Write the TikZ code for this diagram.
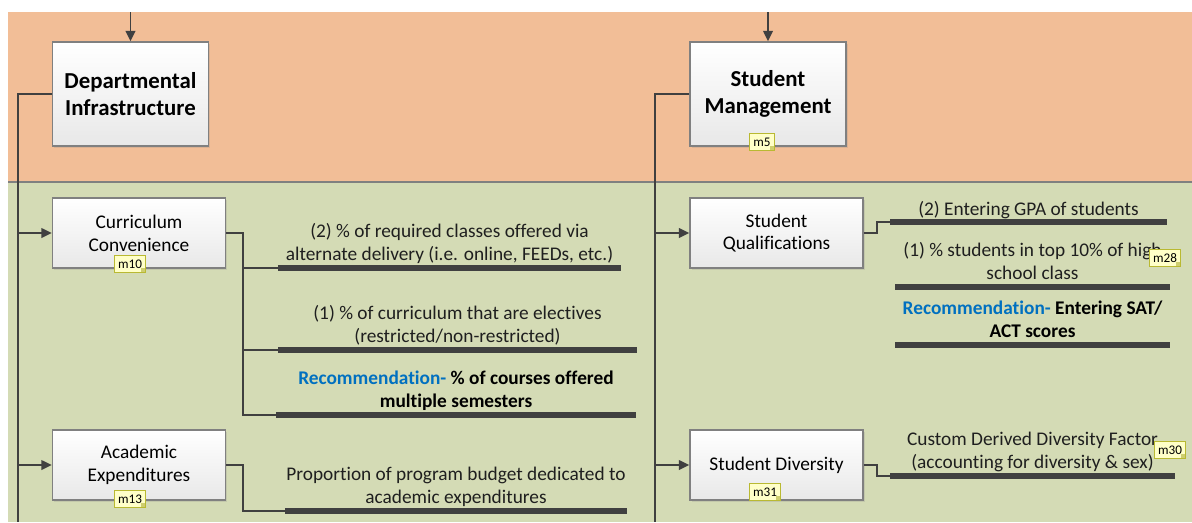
\documentclass[tikz,border=0pt]{standalone}
\usepackage{fontspec}
\setmainfont{Carlito}[Ligatures=NoCommon]
\usetikzlibrary{positioning,arrows.meta,shadows}

\definecolor{bandorange}{RGB}{242,190,151}
\definecolor{bandgreen}{RGB}{212,219,181}
\definecolor{linegray}{RGB}{64,64,64}
\definecolor{recblue}{RGB}{0,112,192}
\definecolor{tagfill}{RGB}{255,255,200}
\definecolor{tagedge}{RGB}{185,185,50}

\newcommand{\recom}{\textcolor{recblue}{Recommendation-}}

\begin{document}
\begin{tikzpicture}[
        x=0.02cm, y=-0.02cm,
        title/.style={
            rectangle,
            draw=black!50,
            line width=0.8pt,
            top color=white,
            bottom color=black!9,
            drop shadow={opacity=0.2, shadow xshift=1pt, shadow yshift=-1pt},
            minimum width=3.12cm,
            minimum height=2.08cm,
            align=center,
            font=\fontsize{13}{15.5}\selectfont\bfseries
        },
        topic/.style={
            title,
            minimum width=3.46cm,
            minimum height=1.4cm,
            font=\fontsize{11}{13}\selectfont
        },
        bar/.style={rectangle, fill=linegray, inner sep=0pt, minimum height=3.4pt},
        metric/.style={
            align=center,
            inner sep=0pt,
            text=black!88,
            font=\fontsize{11}{13}\selectfont,
            execute at end node=\strut
        },
        rec/.style={metric, text=black, font=\fontsize{11}{13}\selectfont\bfseries},
        tag/.style={
            rectangle,
            draw=tagedge,
            fill=tagfill,
            line width=0.6pt,
            inner xsep=2pt,
            inner ysep=1pt,
            minimum height=0.34cm,
            font=\fontsize{7.5}{8}\selectfont,
            path picture={\fill[tagedge!70] (path picture bounding box.south east) rectangle ++(-2.5pt,2.5pt);}
        },
        link/.style={draw=linegray, line width=1.1pt},
        arrow/.style={link, -{Triangle[length=6pt,width=5.5pt]}}
    ]

    % Bands
    \useasboundingbox (0,0) rectangle (1192,522);
    \fill[bandorange] (8,12) rectangle (1192,182);
    \fill[bandgreen] (8,182) rectangle (1192,522);
    \draw[black!50, line width=0.8pt] (8,182) -- (1192,182);

    % Nodes
    \node (di) [title] at (130.5,94) {Departmental\\Infrastructure};
    \node (sm) [title] at (768,94) {Student\\Management};

    \node (cc) [topic] at (139,233) {Curriculum\\Convenience};
    \node (ae) [topic] at (139,465) {Academic\\Expenditures};
    \node (sq) [topic] at (776.5,233) {Student\\Qualifications};
    \node (sd) [topic] at (776.5,465) {Student Diversity};

    \coordinate (ditop) at (130.5,12);
    \coordinate (smtop) at (768,12);
    \coordinate (dibot) at (18,522);
    \coordinate (smbot) at (655,522);
    \coordinate (ccfork) at (243,233);
    \coordinate (aefork) at (243,465);
    \coordinate (sqfork) at (877,233);
    \coordinate (sdfork) at (877,465);

    % Bars
    \node (mc2) [bar, minimum width=6.86cm] at (449.5,268) {};
    \node (mc1) [bar, minimum width=7.18cm] at (457.5,350) {};
    \node (mcr) [bar, minimum width=7.2cm] at (456,415) {};
    \node (ma) [bar, minimum width=6.84cm] at (456,511) {};
    \node (mq2) [bar, minimum width=5.54cm] at (1028.5,222) {};
    \node (mq1) [bar, minimum width=5.5cm] at (1032.5,287) {};
    \node (mqr) [bar, minimum width=5.5cm] at (1032.5,345) {};
    \node (md) [bar, minimum width=5.7cm] at (1032.5,476) {};

    % Metric texts
    \node (tc2) [metric, above=-1.5pt of mc2] {(2) \% of required classes offered via\\alternate delivery (i.e. online, FEEDs, etc.)};
    \node (tc1) [metric, above=-1.5pt of mc1] {(1) \% of curriculum that are electives\\(restricted/non-restricted)};
    \node (tcr) [rec, above=-1.5pt of mcr] {\recom{} \% of courses offered\\multiple semesters};
    \node (ta) [metric, above=-1.5pt of ma] {Proportion of program budget dedicated to\\academic expenditures};
    \node (tq2) [metric, above=-2.5pt of mq2] {(2) Entering GPA of students};
    \node (tq1) [metric, above=-1.5pt of mq1] {(1) \% students in top 10\% of high\\school class};
    \node (tqr) [rec, above=-1.5pt of mqr] {\recom{} Entering SAT/\\ACT scores};
    \node (td) [metric, above=-1.5pt of md] {Custom Derived Diversity Factor\\(accounting for diversity \& sex)};

    % Arrows
    \draw[arrow] (ditop) -- (di.north);
    \draw[arrow] (smtop) -- (sm.north);
    \draw[link] (di.west) -| (dibot);
    \draw[link] (sm.west) -| (smbot);
    \draw[arrow] (cc.west -| dibot) -- (cc.west);
    \draw[arrow] (ae.west -| dibot) -- (ae.west);
    \draw[arrow] (sq.west -| smbot) -- (sq.west);
    \draw[arrow] (sd.west -| smbot) -- (sd.west);

    \draw[link] (cc.east) -- (ccfork) |- (mcr.west);
    \draw[link] (ccfork) |- (mc2.west);
    \draw[link] (ccfork) |- (mc1.west);
    \draw[link] (ae.east) -- (aefork) |- (ma.west);
    \draw[link] (sq.east) -- (sqfork) |- (mq2.west);
    \draw[link] (sd.east) -- (sdfork) |- (md.west);

    % Tags
    \node (m5) [tag] at (762,142) {m5};
    \node (m10) [tag] at (130,264) {m10};
    \node (m13) [tag] at (130,499) {m13};
    \node (m31) [tag] at (765,492) {m31};
    \node (m28) [tag] at (1165,258) {m28};
    \node (m30) [tag] at (1170,450) {m30};

    \end{tikzpicture}
\end{document}
